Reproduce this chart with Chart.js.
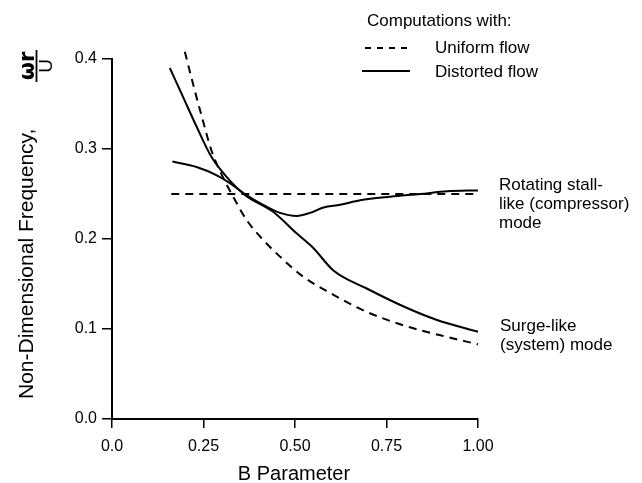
<!DOCTYPE html>
<html><head><meta charset="utf-8">
<script src="https://cdn.jsdelivr.net/npm/chart.js@4/dist/chart.umd.min.js"></script>
<style>html,body{margin:0;padding:0;background:#fff;} canvas{display:block;}</style>
</head><body>
<canvas id="c" width="642" height="483"></canvas>
<script>
// ---- data ----
const xTickValues = [0, 0.25, 0.5, 0.75, 1.0];
const xTickLabels = ['0.0', '0.25', '0.50', '0.75', '1.00'];
const yTickValues = [0, 0.1, 0.2, 0.3, 0.4];
const yTickLabels = ['0.0', '0.1', '0.2', '0.3', '0.4'];

// Uniform flow (dashed) - surge-like mode
const uniformSurgeB = [0.199, 0.221, 0.244, 0.272, 0.299, 0.327, 0.368, 0.413, 0.468, 0.523, 0.596, 0.696, 0.797, 0.897, 1.0];
const uniformSurgeF = [0.408, 0.373, 0.338, 0.298, 0.272, 0.250, 0.221, 0.199, 0.177, 0.158, 0.140, 0.119, 0.104, 0.093, 0.083];
// Uniform flow (dashed) - rotating stall-like mode
const uniformStallB = [0.162, 1.0];
const uniformStallF = [0.250, 0.250];
// Distorted flow (solid) - surge-like mode
const distortedSurgeB = [0.158, 0.194, 0.231, 0.272, 0.313, 0.363, 0.441, 0.505, 0.550, 0.605, 0.696, 0.797, 0.888, 1.0];
const distortedSurgeF = [0.390, 0.358, 0.325, 0.291, 0.269, 0.249, 0.230, 0.206, 0.190, 0.165, 0.145, 0.125, 0.110, 0.097];
// Distorted flow (solid) - rotating stall-like mode
const distortedStallB = [0.165, 0.231, 0.285, 0.322, 0.363, 0.413, 0.459, 0.505, 0.541, 0.578, 0.623, 0.678, 0.760, 0.842, 0.916, 1.0];
const distortedStallF = [0.286, 0.280, 0.271, 0.262, 0.250, 0.238, 0.229, 0.2256, 0.229, 0.235, 0.238, 0.243, 0.247, 0.250, 0.253, 0.254];

const legendTitle = 'Computations with:';
const legendLabels = ['Uniform flow', 'Distorted flow'];
const stallNote = ['Rotating stall-', 'like (compressor)', 'mode'];
const surgeNote = ['Surge-like', '(system) mode'];
const yTitle = 'Non-Dimensional Frequency,';
const xTitle = 'B Parameter';

const pts = (xs, ys) => xs.map((x, i) => ({x: x, y: ys[i]}));
const FONT = '"Liberation Sans", Arial, Helvetica, sans-serif';
Chart.defaults.font.family = FONT;
Chart.defaults.color = '#000';

const DASH = [8, 6];
const lineDs = (label, data, dashed) => ({
  label, data,
  showLine: true,
  borderColor: '#000',
  backgroundColor: '#000',
  borderWidth: 2,
  borderDash: dashed ? DASH : [],
  pointRadius: 0,
  pointHoverRadius: 0,
  cubicInterpolationMode: 'monotone',
  fill: false,
  clip: false
});

const textPlugin = {
  id: 'texts',
  afterDraw(chart) {
    const ctx = chart.ctx;
    const xs = chart.scales.x;
    const ca = chart.chartArea;
    ctx.save();
    ctx.fillStyle = '#000';
    ctx.strokeStyle = '#000';
    ctx.textBaseline = 'alphabetic';

    // legend
    ctx.font = '17px ' + FONT;
    ctx.textAlign = 'left';
    ctx.fillText(legendTitle, 367, 26);
    ctx.lineWidth = 2;
    ctx.setLineDash([6, 6]);
    ctx.beginPath(); ctx.moveTo(365, 48); ctx.lineTo(409, 48); ctx.stroke();
    ctx.setLineDash([]);
    ctx.beginPath(); ctx.moveTo(362, 71); ctx.lineTo(410, 71); ctx.stroke();
    ctx.fillText(legendLabels[0], 435, 53);
    ctx.fillText(legendLabels[1], 435, 77);

    // annotations at right
    const xr = xs.getPixelForValue(1.0) + 21;
    stallNote.forEach((t, i) => ctx.fillText(t, xr, 190 + i * 19));
    surgeNote.forEach((t, i) => ctx.fillText(t, xr + 1, 331 + i * 19));

    // x title
    ctx.font = '20px ' + FONT;
    ctx.textAlign = 'center';
    ctx.fillText(xTitle, (ca.left + ca.right) / 2 - 1, 480);

    // y title (rotated)
    ctx.save();
    ctx.translate(33, 399);
    ctx.rotate(-Math.PI / 2);
    ctx.font = '21px ' + FONT;
    ctx.textAlign = 'left';
    ctx.fillText(yTitle, 0, 0);
    ctx.restore();

    // fraction  ωr / U
    ctx.save();
    ctx.translate(0, 66);
    ctx.rotate(-Math.PI / 2);
    ctx.textAlign = 'center';
    ctx.font = 'bold 21px "DejaVu Sans", ' + FONT;
    ctx.fillText('ωr', 0, 34);
    ctx.lineWidth = 1.8;
    ctx.beginPath(); ctx.moveTo(-16, 36.5); ctx.lineTo(16, 36.5); ctx.stroke();
    ctx.font = '19px ' + FONT;
    ctx.fillText('U', 0, 52);
    ctx.restore();

    ctx.restore();
  }
};

new Chart(document.getElementById('c'), {
  type: 'scatter',
  data: {
    datasets: [
      lineDs('Uniform flow (surge)', pts(uniformSurgeB, uniformSurgeF), true),
      lineDs('Uniform flow (stall)', pts(uniformStallB, uniformStallF), true),
      lineDs('Distorted flow (surge)', pts(distortedSurgeB, distortedSurgeF), false),
      lineDs('Distorted flow (stall)', pts(distortedStallB, distortedStallF), false)
    ]
  },
  options: {
    responsive: false,
    animation: false,
    devicePixelRatio: 1,
    layout: { padding: { top: 59, right: 164, left: 0, bottom: 0 } },
    plugins: { legend: { display: false }, tooltip: { enabled: false }, title: { display: false } },
    scales: {
      x: {
        type: 'linear', min: 0, max: 1,
        afterBuildTicks: s => { s.ticks = xTickValues.map(v => ({value: v})); },
        afterFit: s => { s.height = 64; },
        ticks: {
          font: { size: 16 }, color: '#000', padding: 9, maxRotation: 0,
          callback: v => xTickLabels[xTickValues.findIndex(t => Math.abs(t - v) < 1e-6)]
        },
        grid: { display: true, drawOnChartArea: false, drawTicks: true, tickLength: 9, color: '#000', lineWidth: 1.5 },
        border: { display: true, color: '#000', width: 2 }
      },
      y: {
        type: 'linear', min: 0, max: 0.4,
        afterBuildTicks: s => { s.ticks = yTickValues.map(v => ({value: v})); },
        afterFit: s => { s.width = 112; },
        ticks: {
          font: { size: 16 }, color: '#000', padding: 5,
          callback: v => yTickLabels[yTickValues.findIndex(t => Math.abs(t - v) < 1e-6)]
        },
        grid: { display: true, drawOnChartArea: false, drawTicks: true, tickLength: 10, color: '#000', lineWidth: 1.5 },
        border: { display: true, color: '#000', width: 2 }
      }
    }
  },
  plugins: [textPlugin]
});
</script>
</body></html>
